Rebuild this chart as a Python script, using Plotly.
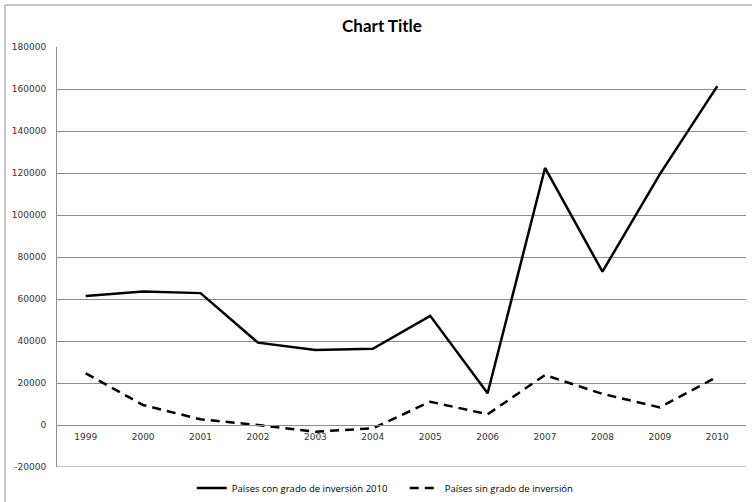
import plotly.graph_objects as go

# Annual series, 1999-2010
years = [1999, 2000, 2001, 2002, 2003, 2004, 2005, 2006, 2007, 2008, 2009, 2010]
con_grado = [61400, 63600, 62800, 39200, 35700, 36300, 52000, 15100, 122400, 73000, 119500, 161400]
sin_grado = [24600, 9500, 2700, 0, -3200, -1600, 11100, 5100, 23800, 14800, 8400, 23000]
y_ticks = [-20000, 0, 20000, 40000, 60000, 80000, 100000, 120000, 140000, 160000, 180000]

name_con = "Países con grado de inversión 2010"
name_sin = "Países sin grado de inversión"

fig = go.Figure()
fig.add_trace(go.Scatter(
    x=years, y=con_grado, name=name_con, mode="lines",
    line=dict(color="black", width=2.5),
))
fig.add_trace(go.Scatter(
    x=years, y=sin_grado, name=name_sin, mode="lines",
    line=dict(color="black", width=2.5, dash="9px,6px"),
))

grid = "#8c8c8c"
fig.update_layout(
    width=752, height=502,
    margin=dict(l=57, r=6, t=47, b=35, autoexpand=False),
    paper_bgcolor="white", plot_bgcolor="white",
    title=dict(text="<b>Chart Title</b>", x=0.508, xanchor="center", y=0.949, yanchor="middle",
               font=dict(family="Lato, Open Sans, sans-serif", size=17, color="black")),
    font=dict(family="DejaVu Sans, sans-serif", size=9, color="#333"),
    showlegend=True,
    legend=dict(orientation="h", x=0.1956, xanchor="left", y=-0.05, yanchor="middle",
                font=dict(family="Open Sans, sans-serif", size=9.5, color="black"),
                itemwidth=30, entrywidth=168, tracegroupgap=0),
    xaxis=dict(
        range=[1998.5, 2010.5], tickvals=years, ticktext=[str(y) for y in years],
        anchor="free", position=0.1, showgrid=False, zeroline=False,
        showline=True, linecolor=grid, linewidth=1, ticks="", ticklabelstandoff=3,
        tickfont=dict(family="DejaVu Sans, sans-serif", size=9, color="#333"),
    ),
    yaxis=dict(
        range=[-20000, 180000], tickvals=y_ticks, ticktext=[str(v) for v in y_ticks],
        showgrid=True, gridcolor=grid, gridwidth=1, zeroline=False,
        showline=True, linecolor=grid, linewidth=1, ticks="", ticklabelstandoff=8,
        tickfont=dict(family="DejaVu Sans, sans-serif", size=9, color="#333"),
    ),
)

# Bottom gridline at the lower end of the value range
fig.add_shape(type="line", xref="paper", yref="y", x0=0, x1=1,
              y0=y_ticks[0], y1=y_ticks[0], line=dict(color=grid, width=1))

# Outer frame of the chart area (its right and bottom edges run past the page)
fig.add_shape(type="rect", xref="paper", yref="paper",
              x0=-52 / 689, x1=1.05, y0=-0.2, y1=1 + 42 / 420,
              line=dict(color=grid, width=1), layer="below")

fig.write_html("out.html")
